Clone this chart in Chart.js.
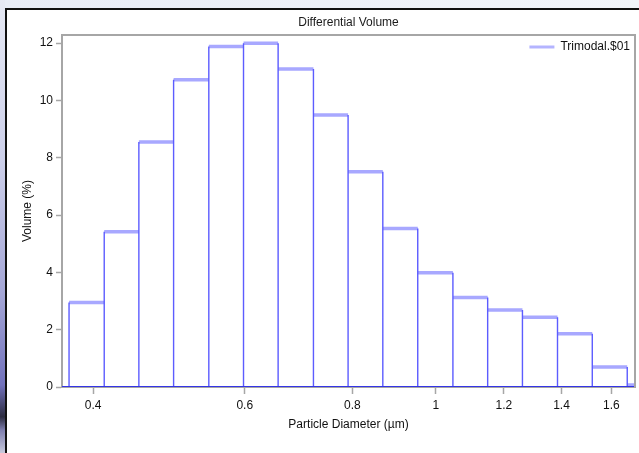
<!DOCTYPE html>
<html>
<head>
<meta charset="utf-8">
<title>Differential Volume</title>
<script src="https://cdn.jsdelivr.net/npm/chart.js@4.4.1/dist/chart.umd.min.js"></script>
<style>
  html, body { margin: 0; padding: 0; width: 639px; height: 453px; overflow: hidden; }
  body {
    position: relative;
    background: linear-gradient(to bottom, #e6e9f4 0%, #cdd0ea 35%, #a4a6d6 65%, #7272bc 85%, #2c2c40 92%, #8080b0 95%, #c8cadc 100%);
  }
  #topband {
    position: absolute; left: 5px; top: 0; right: 0; height: 8px;
    background: linear-gradient(to right, #e8ecf6, #f2f5fa);
  }
  #card {
    position: absolute; left: 5px; top: 8px; right: 0; bottom: 0;
    background: #fff;
    border-left: 2px solid #111;
    border-top: 2px solid #111;
  }
  #chart { position: absolute; left: 7px; top: 10px; }
</style>
</head>
<body>
<div id="topband"></div>
<div id="card"></div>
<canvas id="chart" width="632" height="443"></canvas>
<script>
// size classes (um) and the volume % in each class
const binEdges = [0.375, 0.412, 0.452, 0.496, 0.545, 0.598, 0.656, 0.721, 0.791,
                  0.868, 0.953, 1.047, 1.149, 1.261, 1.385, 1.520, 1.669, 1.832];
const volumes = [2.95, 5.42, 8.55, 10.72, 11.88, 11.99, 11.09, 9.49, 7.51,
                 5.53, 3.99, 3.12, 2.69, 2.43, 1.86, 0.70, 0.07];
const seriesName = 'Trimodal.$01';
const xTicks = [0.4, 0.6, 0.8, 1, 1.2, 1.4, 1.6];
const yTicks = [0, 2, 4, 6, 8, 10, 12];
const xMin = 0.368, xMax = 1.704;
const yMin = 0, yMax = 12.28;

const FONT = '"Liberation Sans Narrow", "Arial Narrow", "Liberation Sans", sans-serif';
const AXIS_GREY = '#a6a6a6';

// vertical sides of the bins, each one its own little segment
const sides = [];
binEdges.forEach((e, i) => {
    const before = i > 0 ? volumes[i - 1] : 0;
    const after = i < volumes.length ? volumes[i] : 0;
    sides.push({x: e, y: 0}, {x: e, y: Math.max(before, after)}, {x: e, y: null});
});

// the top of every bin
const tops = [];
volumes.forEach((v, i) => {
    tops.push({x: binEdges[i], y: v}, {x: binEdges[i + 1], y: v}, {x: binEdges[i + 1], y: null});
});

const baseline = [{x: xMin, y: 0}, {x: xMax, y: 0}];

// grey box round the plot (top + right, the axes do the rest)
const plotFrame = {
    id: 'plotFrame',
    afterDraw(chart) {
        const {ctx, chartArea: a} = chart;
        ctx.save();
        ctx.strokeStyle = AXIS_GREY;
        ctx.lineWidth = 2;
        ctx.beginPath();
        ctx.moveTo(a.left, a.top);
        ctx.lineTo(a.right, a.top);
        ctx.lineTo(a.right, a.bottom);
        ctx.stroke();
        ctx.restore();
    }
};

// legend sits inside the plot, top right
const insideLegend = {
    id: 'insideLegend',
    afterDraw(chart) {
        const {ctx, chartArea: a} = chart;
        ctx.save();
        ctx.font = '12px ' + FONT;
        ctx.textBaseline = 'middle';
        ctx.textAlign = 'right';
        ctx.fillStyle = '#111';
        const y = a.top + 12;
        const right = a.right - 5;
        const w = ctx.measureText(seriesName).width;
        ctx.fillText(seriesName, right, y);
        ctx.strokeStyle = '#b4b4ff';
        ctx.lineWidth = 3;
        ctx.beginPath();
        ctx.moveTo(right - w - 6, y);
        ctx.lineTo(right - w - 31, y);
        ctx.stroke();
        ctx.restore();
    }
};

const ctx = document.getElementById('chart').getContext('2d');
new Chart(ctx, {
    type: 'scatter',
    data: {
        datasets: [
            {
                label: 'baseline',
                data: baseline,
                showLine: true,
                borderColor: '#3434e6',
                borderWidth: 2,
                pointRadius: 0
            },
            {
                label: 'sides',
                data: sides,
                showLine: true,
                spanGaps: false,
                borderColor: '#5c5cff',
                borderWidth: 1.4,
                pointRadius: 0
            },
            {
                label: seriesName,
                data: tops,
                showLine: true,
                spanGaps: false,
                borderColor: '#a8a8ff',
                borderWidth: 3.5,
                borderCapStyle: 'butt',
                pointRadius: 0
            }
        ]
    },
    options: {
        responsive: false,
        animation: false,
        devicePixelRatio: 1,
        layout: {padding: {left: 0, right: 4, top: 0, bottom: 0}},
        plugins: {
            legend: {display: false},
            tooltip: {enabled: false},
            title: {
                display: true,
                text: 'Differential Volume',
                fullSize: false,
                color: '#1a1a1a',
                font: {family: FONT, size: 12, weight: 'normal'},
                padding: {top: 5, bottom: 5.6}
            }
        },
        scales: {
            x: {
                type: 'logarithmic',
                min: xMin,
                max: xMax,
                afterBuildTicks(scale) {
                    scale.ticks = xTicks.map(v => ({value: v}));
                },
                afterFit(scale) { scale.height = 66; },
                ticks: {
                    color: '#111',
                    font: {family: FONT, size: 12},
                    padding: 4,
                    autoSkip: false,
                    maxRotation: 0,
                    callback: v => String(v)
                },
                grid: {
                    drawOnChartArea: false,
                    color: AXIS_GREY,
                    tickLength: 7,
                    tickWidth: 1.5
                },
                border: {color: AXIS_GREY, width: 2},
                title: {
                    display: true,
                    text: 'Particle Diameter (\u00b5m)',
                    color: '#111',
                    font: {family: FONT, size: 12},
                    padding: {top: 0, bottom: 21}
                }
            },
            y: {
                min: yMin,
                max: yMax,
                afterBuildTicks(scale) {
                    scale.ticks = yTicks.map(v => ({value: v}));
                },
                afterFit(scale) { scale.width = 55; },
                ticks: {
                    color: '#111',
                    font: {family: FONT, size: 12},
                    padding: 3
                },
                grid: {
                    drawOnChartArea: false,
                    color: AXIS_GREY,
                    tickLength: 6,
                    tickWidth: 1.5
                },
                border: {color: AXIS_GREY, width: 2},
                title: {
                    display: true,
                    text: 'Volume (%)',
                    color: '#111',
                    font: {family: FONT, size: 12},
                    padding: {top: 13, bottom: 0}
                }
            }
        }
    },
    plugins: [plotFrame, insideLegend]
});
</script>
</body>
</html>
